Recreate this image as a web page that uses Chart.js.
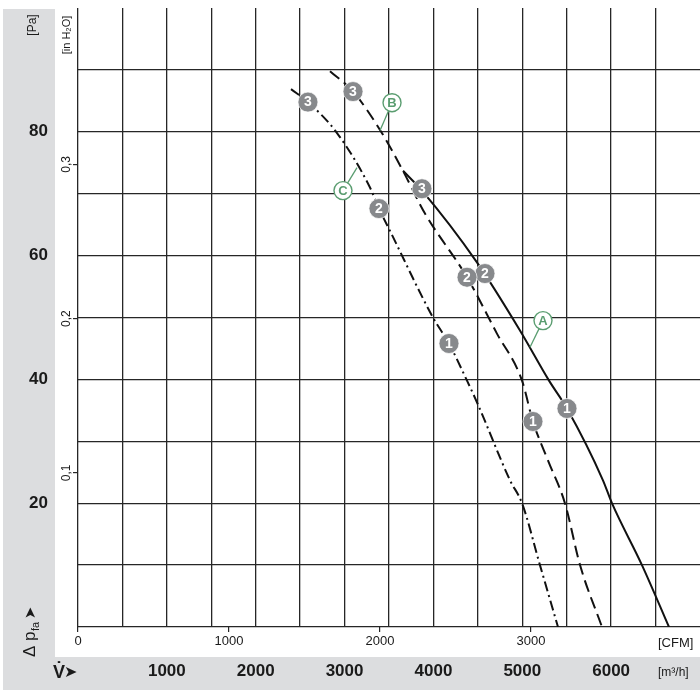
<!DOCTYPE html>
<html><head><meta charset="utf-8">
<script src="https://cdn.jsdelivr.net/npm/chart.js@4.4.1/dist/chart.umd.min.js"></script>
<style>html,body{margin:0;padding:0;background:#fff}#wrap{width:700px;height:700px;position:relative}</style>
</head><body><div id="wrap"><canvas id="c" width="700" height="700"></canvas></div>
<script>
// ---- data (x: m³/h, y: Pa) ----
const curveA_flow = [3658, 3871, 4490, 4974, 5301, 5503, 5908, 6009, 6347, 6651];
const curveA_pa   = [73.7, 70.5, 58.9, 47.9, 39.8, 35.3, 23.7, 20.0, 10.0, 0];
const curveB_flow = [2836, 3095, 3399, 3646, 3905, 4378, 4715, 4997, 5120, 5289, 5480, 5650, 5897];
const curveB_pa   = [89.8, 86.5, 80.3, 74.0, 66.8, 56.5, 47.4, 39.8, 33.2, 26.9, 20.0, 10.0, 0];
const curveC_flow = [2397, 2588, 2915, 3286, 3387, 3511, 3995, 4175, 4378, 4490, 4862, 4997, 5199, 5402];
const curveC_pa   = [86.9, 84.8, 79.8, 71.0, 67.6, 64.0, 50.0, 45.8, 39.8, 36.3, 23.7, 20.0, 10.0, 0];

const markerFlow = [3871, 4580, 5503, 3095, 4378, 5120, 2588, 3387, 4175];
const markerPa   = [70.8, 57.1, 35.3, 86.5, 56.5, 33.2, 84.8, 67.6, 45.8];
const markerNum  = ['3', '2', '1', '3', '2', '1', '3', '2', '1'];

const curveLabelText = ['A', 'B', 'C'];
const curveLabelFlow = [5233, 3534, 2982];
const curveLabelPa   = [49.5, 84.7, 70.5];
const leaderFlow     = [5087, 3399, 3140];
const leaderPa       = [45.2, 80.2, 74.2];

// ---- axes ----
const flowGridTicks = [0, 500, 1000, 1500, 2000, 2500, 3000, 3500, 4000, 4500, 5000, 5500, 6000, 6500, 7000];
const flowLabels    = [1000, 2000, 3000, 4000, 5000, 6000];
const paGridTicks   = [0, 10, 20, 30, 40, 50, 60, 70, 80, 90, 100];
const paLabels      = [20, 40, 60, 80];
const cfmTicks      = [0, 1000, 2000, 3000];
const inH2OTicks    = [0.1, 0.2, 0.3];
const inH2OLabels   = ['0,1', '0,2', '0,3'];
const FLOW_MAX = 7000, PA_MAX = 100;
const M3H_PER_CFM = 1.69901, PA_PER_INH2O = 249.089;

const NARROW = "'Liberation Sans Narrow','Arial Narrow','Liberation Sans',sans-serif";
const GRID = '#262626';
const GREEN = '#5a9d70';
const NONE = 'rgba(0,0,0,0)';

const pts = (xs, ys) => xs.map((x, i) => ({x: x, y: ys[i]}));
const fix = (dim, size) => s => {
  s[dim] = size;
  s.paddingTop = 0; s.paddingBottom = 0; s.paddingLeft = 0; s.paddingRight = 0;
};

const leaderSets = curveLabelText.map((t, i) => ({
  label: 'leader' + t,
  data: [{x: leaderFlow[i], y: leaderPa[i]}, {x: curveLabelFlow[i], y: curveLabelPa[i]}],
  showLine: true, borderColor: GREEN, borderWidth: 1.3, pointRadius: 0, order: 2
}));

const bgPlugin = {
  id: 'bg',
  beforeDraw(chart) {
    const c = chart.ctx;
    c.save();
    c.fillStyle = '#dcdddf';
    c.fillRect(3, 9, 52, 681);
    c.fillRect(3, 657, 697, 33);
    c.restore();
  },
  afterDatasetsDraw(chart) {
    const c = chart.ctx;
    c.save();
    c.textAlign = 'center';
    c.textBaseline = 'middle';
    const mMeta = chart.getDatasetMeta(3);
    c.fillStyle = '#ffffff';
    c.font = "bold 14px " + NARROW;
    mMeta.data.forEach((el, i) => c.fillText(markerNum[i], el.x, el.y + 0.5));
    const lMeta = chart.getDatasetMeta(4);
    c.fillStyle = GREEN;
    c.font = "bold 13px " + NARROW;
    lMeta.data.forEach((el, i) => c.fillText(curveLabelText[i], el.x, el.y + 0.5));
    c.restore();
  },
  afterDraw(chart) {
    const c = chart.ctx;
    const y2 = chart.scales.y2;
    c.save();
    c.fillStyle = '#1a1a1a';
    // inH2O rotated tick labels
    c.font = "12px " + NARROW;
    c.textAlign = 'center';
    c.textBaseline = 'middle';
    inH2OTicks.forEach((v, i) => {
      const py = y2.getPixelForValue(v);
      c.save(); c.translate(67, py); c.rotate(-Math.PI / 2);
      c.fillText(inH2OLabels[i], 0, 0); c.restore();
    });
    // unit labels
    c.save(); c.translate(33, 25); c.rotate(-Math.PI / 2);
    c.font = "12px " + NARROW; c.fillText('[Pa]', 0, 0); c.restore();
    c.save(); c.translate(67, 35); c.rotate(-Math.PI / 2);
    c.font = "11px " + NARROW; c.fillText('[in H₂O]', 0, 0); c.restore();
    // Δ p_fa arrow
    c.save(); c.translate(35, 657); c.rotate(-Math.PI / 2);
    c.textAlign = 'left'; c.textBaseline = 'alphabetic';
    c.font = "17px " + NARROW;
    c.fillText('Δ p', 0, 0);
    let w = c.measureText('Δ p').width;
    c.font = "11px " + NARROW;
    c.fillText('fa', w + 0.5, 4);
    w += c.measureText('fa').width + 3;
    c.font = "15px 'DejaVu Sans'";
    c.fillText('➤', w, 0);
    c.restore();
    // V̇ arrow
    c.textAlign = 'left'; c.textBaseline = 'middle';
    c.font = "bold 18px " + NARROW;
    c.fillText('V̇', 53, 673);
    c.font = "16px 'DejaVu Sans'";
    c.fillText('➤', 64, 673);
    // right units
    c.font = "13px " + NARROW;
    c.textAlign = 'left';
    c.fillText('[CFM]', 658, 643);
    c.font = "12px " + NARROW;
    c.fillText('[m³/h]', 658, 673);
    c.restore();
  }
};

const curveStyle = {showLine: true, borderColor: '#111', borderWidth: 2, pointRadius: 0, cubicInterpolationMode: 'monotone', order: 3};

new Chart(document.getElementById('c'), {
  type: 'scatter',
  data: {
    datasets: [
      Object.assign({label: 'A', data: pts(curveA_flow, curveA_pa)}, curveStyle),
      Object.assign({label: 'B', data: pts(curveB_flow, curveB_pa), borderDash: [12, 6]}, curveStyle),
      Object.assign({label: 'C', data: pts(curveC_flow, curveC_pa), borderDash: [10, 4, 2, 4]}, curveStyle),
      {label: 'markers', data: pts(markerFlow, markerPa), showLine: false, pointRadius: 10, backgroundColor: '#87898c', borderColor: 'rgba(255,255,255,0.7)', borderWidth: 1, order: 1},
      {label: 'labels', data: pts(curveLabelFlow, curveLabelPa), showLine: false, pointRadius: 9, backgroundColor: '#ffffff', borderColor: GREEN, borderWidth: 1.4, order: 0},
      ...leaderSets
    ]
  },
  options: {
    responsive: false,
    animation: false,
    events: [],
    layout: {autoPadding: false, padding: {left: 3, top: 8, right: 0, bottom: 10}},
    plugins: {legend: {display: false}, tooltip: {enabled: false}},
    scales: {
      x: {
        type: 'linear', position: 'bottom', weight: 1, min: 0, max: FLOW_MAX,
        afterBuildTicks: s => { s.ticks = flowGridTicks.map(v => ({value: v})); },
        ticks: {autoSkip: false, maxRotation: 0, minRotation: 0, padding: 4, color: '#1a1a1a',
          font: {family: NARROW, size: 17, weight: 'bold'},
          callback: v => flowLabels.includes(v) ? String(v) : ''},
        grid: {color: c => (c.tick && c.tick.value === FLOW_MAX) ? NONE : GRID, lineWidth: 1.3, drawTicks: false},
        border: {display: false},
        afterFit: fix('height', 33)
      },
      xc: {
        type: 'linear', position: 'bottom', weight: 0, min: 0, max: FLOW_MAX / M3H_PER_CFM,
        afterBuildTicks: s => { s.ticks = cfmTicks.map(v => ({value: v})); },
        ticks: {autoSkip: false, maxRotation: 0, minRotation: 0, padding: 2, color: '#1a1a1a',
          font: {family: NARROW, size: 13}, callback: v => String(v)},
        grid: {drawOnChartArea: false, drawTicks: true, tickLength: 5, color: GRID, lineWidth: 1.2},
        border: {display: false},
        afterFit: fix('height', 30)
      },
      y: {
        type: 'linear', position: 'left', weight: 1, min: 0, max: PA_MAX,
        afterBuildTicks: s => { s.ticks = paGridTicks.map(v => ({value: v})); },
        ticks: {autoSkip: false, padding: 7, color: '#1a1a1a',
          font: {family: NARROW, size: 17, weight: 'bold'},
          callback: v => paLabels.includes(v) ? String(v) : ''},
        grid: {color: c => (c.tick && c.tick.value === PA_MAX) ? NONE : GRID, lineWidth: 1.3, drawTicks: false},
        border: {display: false},
        afterFit: fix('width', 52)
      },
      y2: {
        type: 'linear', position: 'left', weight: 0, min: 0, max: PA_MAX / PA_PER_INH2O,
        afterBuildTicks: s => { s.ticks = inH2OTicks.map(v => ({value: v})); },
        ticks: {display: false},
        grid: {drawOnChartArea: false, drawTicks: true, tickLength: 5, color: GRID, lineWidth: 1.2},
        border: {display: false},
        afterFit: fix('width', 23)
      }
    }
  },
  plugins: [bgPlugin]
});
</script>
</body></html>
